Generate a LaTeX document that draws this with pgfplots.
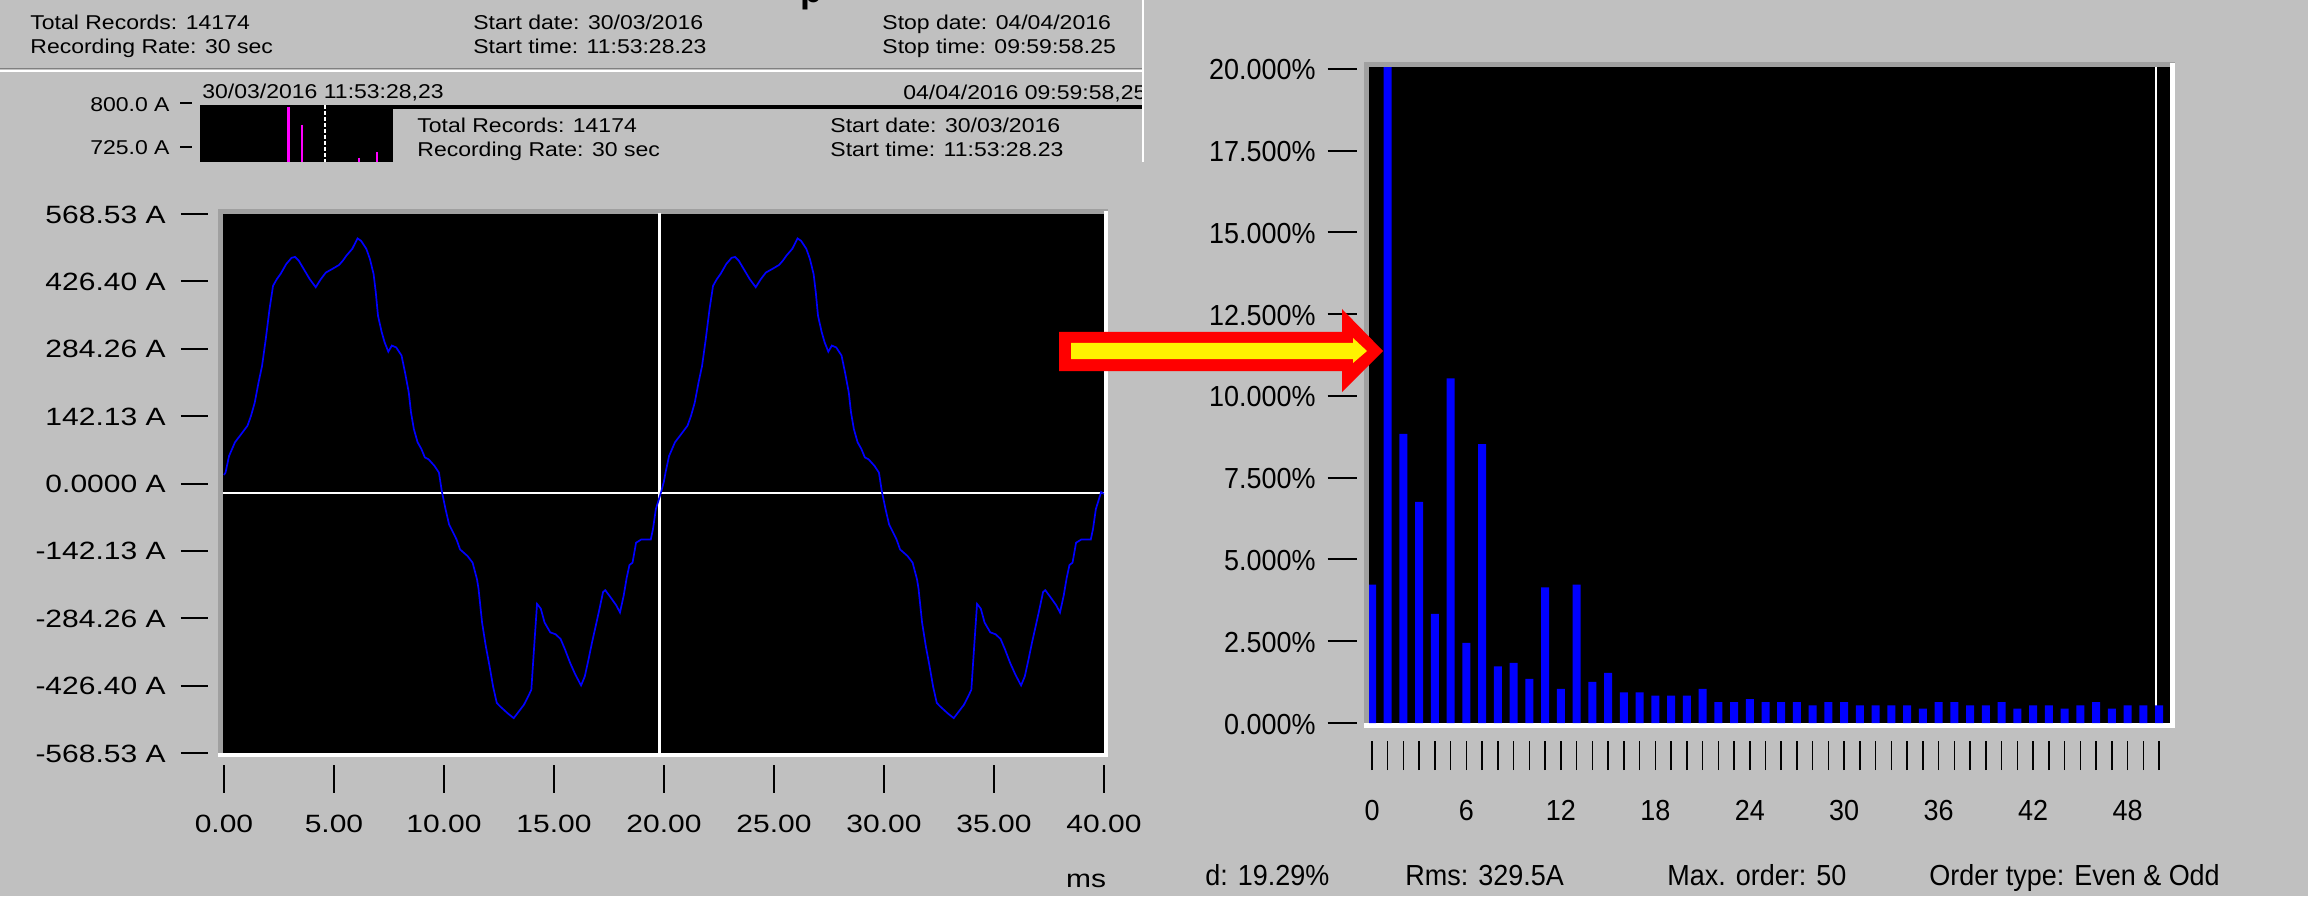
\documentclass[border=0pt]{standalone}
\usepackage{fontspec}
\setmainfont{Liberation Sans}
\usepackage{pgfplots}
\pgfplotsset{compat=1.18}
\newfontfamily\wide[FakeStretch=1.15]{Liberation Sans}
\newfontfamily\wider[FakeStretch=1.2]{Liberation Sans}
\newfontfamily\narrow[FakeStretch=0.93]{Liberation Sans}
\definecolor{bg}{RGB}{192,192,192}
\definecolor{dk}{RGB}{160,160,160}
\definecolor{mag}{RGB}{255,0,255}
\definecolor{pblue}{RGB}{0,0,255}
\newcommand\hd{\wide\fontsize{10}{12}\selectfont}
\newcommand\tkl{\wider\fontsize{12.5}{14}\selectfont}
\newcommand\rtk{\narrow\fontsize{14.5}{16}\selectfont}
\begin{document}
\begin{tikzpicture}
% ---------- background and header (pixel coordinates of the reference) ----------
\begin{scope}[x=0.5pt,y=-0.5pt,yshift=448pt]
\useasboundingbox (0,0) rectangle (2308,896);
\fill[bg] (0,0) rectangle (2308,896);
\node[anchor=base west,inner sep=0,font=\bfseries\fontsize{18}{18}\selectfont] at (800,3) {p};
\node[anchor=base west,inner sep=0,font=\hd] at (30,30) {Total Records: 14174};
\node[anchor=base west,inner sep=0,font=\hd] at (30,54) {Recording Rate: 30 sec};
\node[anchor=base west,inner sep=0,font=\hd] at (473,30) {Start date: 30/03/2016};
\node[anchor=base west,inner sep=0,font=\hd] at (473,54) {Start time: 11:53:28.23};
\node[anchor=base west,inner sep=0,font=\hd] at (882,30) {Stop date: 04/04/2016};
\node[anchor=base west,inner sep=0,font=\hd] at (882,54) {Stop time: 09:59:58.25};
\draw[gray,line width=0.8pt] (0,68.5) -- (1142,68.5);
\draw[white,line width=0.8pt] (0,71) -- (1142,71);
% mini chart
\node[anchor=base east,inner sep=0,font=\hd] at (170,112) {800.0 A};
\node[anchor=base east,inner sep=0,font=\hd] at (170,155) {725.0 A};
\draw[line width=0.7pt] (180,103) -- (192,103);
\draw[line width=0.7pt] (180,147) -- (192,147);
\node[anchor=base west,inner sep=0,font=\hd] at (202,99) {30/03/2016 11:53:28,23};
\begin{scope}
\clip (880,70) rectangle (1141,110);
\node[anchor=base west,inner sep=0,font=\hd] at (903,100) {04/04/2016 09:59:58,25};
\end{scope}
\fill[black] (200,105) rectangle (1142,109);
\fill[black] (200,105) rectangle (393,162);
\draw[mag,line width=1.5pt] (288,107) -- (288,162);
\draw[mag,line width=0.8pt] (302,125) -- (302,162);
\draw[mag,line width=0.8pt] (359,158) -- (359,162);
\draw[mag,line width=0.8pt] (377,152) -- (377,162);
\draw[white,line width=0.8pt,dash pattern=on 2pt off 1pt] (325,105) -- (325,162);
\node[anchor=base west,inner sep=0,font=\hd] at (417,133) {Total Records: 14174};
\node[anchor=base west,inner sep=0,font=\hd] at (417,157) {Recording Rate: 30 sec};
\node[anchor=base west,inner sep=0,font=\hd] at (830,133) {Start date: 30/03/2016};
\node[anchor=base west,inner sep=0,font=\hd] at (830,157) {Start time: 11:53:28.23};
\draw[white,line width=0.8pt] (1143,0) -- (1143,162);
% frames of the two plots
\fill[dk] (218,209) rectangle (1108,214);
\fill[dk] (218,209) rectangle (223,757);
\fill[white] (218,753) rectangle (1108,757);
\fill[white] (1104,211) rectangle (1108,757);
\fill[dk] (1364,62) rectangle (2175,67);
\fill[dk] (1364,62) rectangle (1369,728);
\fill[white] (1364,723) rectangle (2175,728);
\fill[white] (2170,63) rectangle (2175,728);
% texts below
\node[anchor=base,inner sep=0,font=\tkl] at (1086,887) {ms};
\node[anchor=base west,inner sep=0,font=\rtk] at (1205,885) {d: 19.29\%};
\node[anchor=base west,inner sep=0,font=\rtk] at (1405,885) {Rms: 329.5A};
\node[anchor=base west,inner sep=0,font=\rtk] at (1667,885) {Max. order: 50};
\node[anchor=base west,inner sep=0,font=\rtk] at (1929,885) {Order type: Even \& Odd};
\end{scope}

% ---------- left: waveform ----------
\begin{axis}[
  at={(111.5pt,71.5pt)}, anchor=south west, scale only axis,
  width=440.5pt, height=269.5pt,
  xmin=-0.045, xmax=40, ymin=-568.53, ymax=568.53,
  axis background/.style={fill=black},
  axis line style={draw=none},
  tick align=inside, xtick pos=bottom, ytick pos=left,
  major tick length=13.75pt,
  xtick={0,5,...,40},
  xticklabels={0.00,5.00,10.00,15.00,20.00,25.00,30.00,35.00,40.00},
  ytick={-568.53,-426.40,-284.26,-142.13,0,142.13,284.26,426.40,568.53},
  yticklabels={-568.53 A,-426.40 A,-284.26 A,-142.13 A,0.0000 A,142.13 A,284.26 A,426.40 A,568.53 A},
  xtick style={black,line width=1pt,yshift=-19.9pt},
  ytick style={black,line width=1pt,xshift=-21.1pt},
  xticklabel style={font=\tkl,anchor=base,inner sep=0pt,yshift=-39.5pt},
  yticklabel style={font=\tkl,anchor=base east,inner sep=0pt,xshift=-28.5pt,yshift=-4.5pt},
]
\addplot[white,line width=1.2pt] coordinates {(-1,-20) (41,-20)};
\addplot[white,line width=1.2pt] coordinates {(19.8,-600) (19.8,600)};
\addplot[pblue,line width=0.85pt] coordinates {
(0.0,18) (0.07,23) (0.23,58) (0.5,87) (0.73,101) (1.07,122) (1.23,143) (1.4,171) (1.57,213) (1.73,248) (1.9,305) (2.07,368) (2.23,417) (2.4,431) (2.57,442) (2.83,463) (3.07,476) (3.23,478) (3.4,470) (3.63,452) (3.9,431) (4.17,414) (4.4,431) (4.63,445) (4.9,452) (5.23,461) (5.4,470) (5.57,481) (5.83,495) (6.07,517) (6.23,512) (6.47,495) (6.63,474) (6.8,442) (6.9,403) (7.0,354) (7.17,319) (7.3,298) (7.47,278) (7.63,291) (7.83,287) (8.07,270) (8.23,234) (8.4,192) (8.5,150) (8.63,115) (8.8,87) (8.97,73) (9.13,55) (9.3,51) (9.57,37) (9.77,23) (9.9,-16) (10.07,-54) (10.23,-86) (10.57,-118) (10.73,-139) (11.07,-153) (11.3,-167) (11.5,-202) (11.57,-222) (11.73,-293) (11.9,-343) (12.07,-385) (12.23,-428) (12.4,-463) (12.57,-471) (12.9,-485) (13.17,-495) (13.4,-481) (13.63,-467) (13.83,-449) (13.97,-435) (14.1,-343) (14.23,-254) (14.4,-264) (14.57,-293) (14.83,-314) (15.07,-318) (15.3,-328) (15.5,-350) (15.73,-378) (15.97,-403) (16.23,-426) (16.4,-407) (16.57,-371) (16.73,-335) (16.9,-300) (17.07,-264) (17.23,-229) (17.33,-225) (17.57,-240) (17.83,-257) (18.0,-272) (18.17,-236) (18.3,-200) (18.43,-172) (18.57,-167) (18.73,-125) (18.97,-118) (19.4,-118) (19.5,-96) (19.63,-54) (19.77,-33) (19.87,-18)
(20.0,5) (20.07,23) (20.23,58) (20.5,87) (20.73,101) (21.07,122) (21.23,143) (21.4,171) (21.57,213) (21.73,248) (21.9,305) (22.07,368) (22.23,417) (22.4,431) (22.57,442) (22.83,463) (23.07,476) (23.23,478) (23.4,470) (23.63,452) (23.9,431) (24.17,414) (24.4,431) (24.63,445) (24.9,452) (25.23,461) (25.4,470) (25.57,481) (25.83,495) (26.07,517) (26.23,512) (26.47,495) (26.63,474) (26.8,442) (26.9,403) (27.0,354) (27.17,319) (27.3,298) (27.47,278) (27.63,291) (27.83,287) (28.07,270) (28.23,234) (28.4,192) (28.5,150) (28.63,115) (28.8,87) (28.97,73) (29.13,55) (29.3,51) (29.57,37) (29.77,23) (29.9,-16) (30.07,-54) (30.23,-86) (30.57,-118) (30.73,-139) (31.07,-153) (31.3,-167) (31.5,-202) (31.57,-222) (31.73,-293) (31.9,-343) (32.07,-385) (32.23,-428) (32.4,-463) (32.57,-471) (32.9,-485) (33.17,-495) (33.4,-481) (33.63,-467) (33.83,-449) (33.97,-435) (34.1,-343) (34.23,-254) (34.4,-264) (34.57,-293) (34.83,-314) (35.07,-318) (35.3,-328) (35.5,-350) (35.73,-378) (35.97,-403) (36.23,-426) (36.4,-407) (36.57,-371) (36.73,-335) (36.9,-300) (37.07,-264) (37.23,-229) (37.33,-225) (37.57,-240) (37.83,-257) (38.0,-272) (38.17,-236) (38.3,-200) (38.43,-172) (38.57,-167) (38.73,-125) (38.97,-118) (39.4,-118) (39.5,-96) (39.63,-54) (39.77,-33) (39.87,-18) (40.0,-22)
};
\end{axis}

% ---------- right: harmonic spectrum ----------
\begin{axis}[
  at={(684.5pt,86.5pt)}, anchor=south west, scale only axis,
  width=400.5pt, height=328pt,
  xmin=-0.19, xmax=50.7, ymin=0, ymax=20.06,
  axis background/.style={fill=black},
  axis line style={draw=none},
  tick align=inside, xtick pos=bottom, ytick pos=left,
  major tick length=14.5pt,
  xtick={0,...,50},
  xticklabels={0,,,,,,6,,,,,,12,,,,,,18,,,,,,24,,,,,,30,,,,,,36,,,,,,42,,,,,,48,,},
  ytick={0,2.5,5,7.5,10,12.5,15,17.5,20},
  yticklabels={0.000\%,2.500\%,5.000\%,7.500\%,10.000\%,12.500\%,15.000\%,17.500\%,20.000\%},
  xtick style={black,line width=0.75pt,yshift=-23.5pt},
  ytick style={black,line width=1pt,xshift=-20.75pt},
  xticklabel style={font=\rtk,anchor=base,inner sep=0pt,yshift=-48.5pt},
  yticklabel style={font=\rtk,anchor=base east,inner sep=0pt,xshift=-26.5pt,yshift=-5.5pt},
]
\addplot[white,line width=1pt] coordinates {(49.8,0) (49.8,25)};
\addplot[ybar,bar width=4pt,fill=pblue,draw=none] coordinates {
(0,4.23) (1,100) (2,8.84) (3,6.76) (4,3.34) (5,10.54) (6,2.45) (7,8.53) (8,1.73) (9,1.84) (10,1.35)
(11,4.15) (12,1.04) (13,4.23) (14,1.26) (15,1.53) (16,0.94) (17,0.94) (18,0.84) (19,0.84) (20,0.84)
(21,1.04) (22,0.64) (23,0.64) (24,0.73) (25,0.64) (26,0.64) (27,0.64) (28,0.54) (29,0.64) (30,0.64)
(31,0.54) (32,0.54) (33,0.54) (34,0.54) (35,0.44) (36,0.64) (37,0.64) (38,0.54) (39,0.54) (40,0.64)
(41,0.44) (42,0.54) (43,0.54) (44,0.44) (45,0.54) (46,0.64) (47,0.44) (48,0.54) (49,0.54) (50,0.54)
};
\end{axis}

% ---------- arrow on top ----------
\begin{scope}[x=0.5pt,y=-0.5pt,yshift=448pt]
\fill[red] (1059,332) -- (1342,332) -- (1342,309) -- (1383,351) -- (1342,392) -- (1342,371) -- (1059,371) -- cycle;
\fill[yellow] (1071,343) -- (1353,343) -- (1353,338) -- (1367,351) -- (1353,363) -- (1353,359) -- (1071,359) -- cycle;
\end{scope}
\end{tikzpicture}
\end{document}
